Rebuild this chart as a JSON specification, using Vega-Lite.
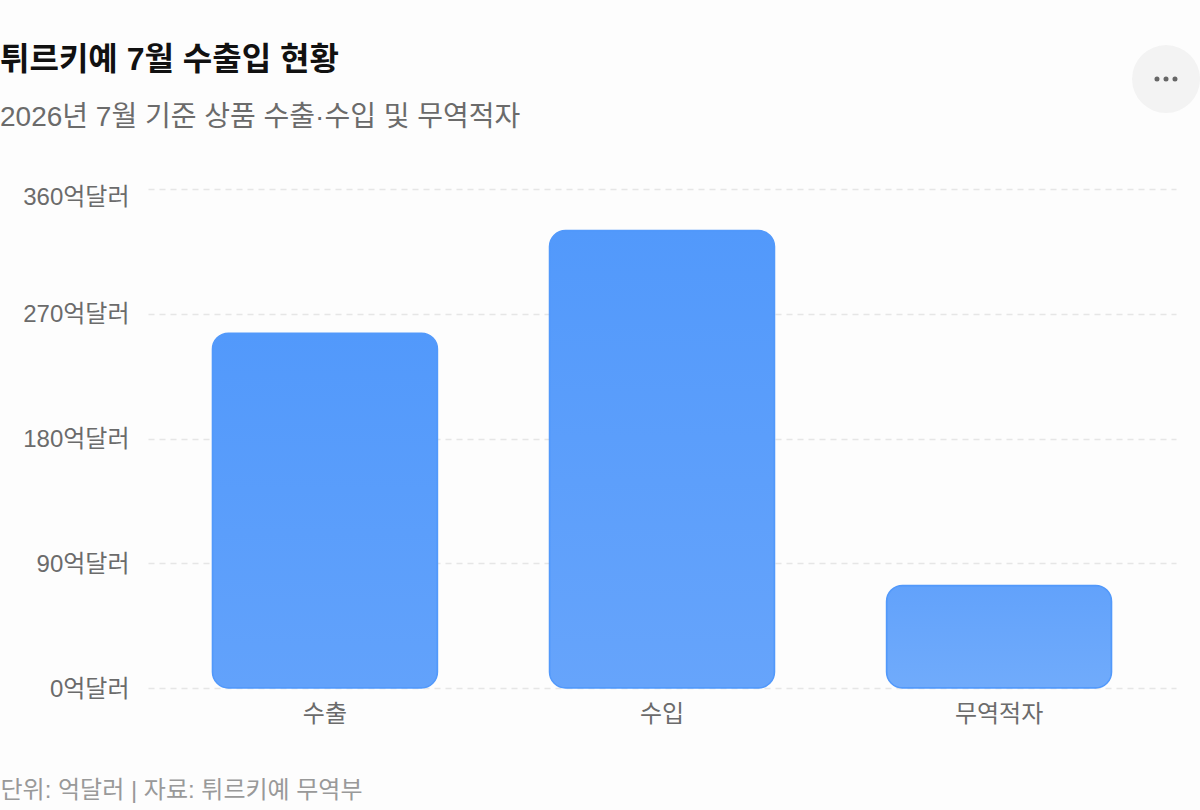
{
"$schema":"https://vega.github.io/schema/vega-lite/v6.json",
"width":1028,"height":499,
"autosize":{"type":"none"},
"padding":{"left":148,"top":189,"right":24,"bottom":122},
"background":"#fdfdfd",
"title":{"text":"튀르키예 7월 수출입 현황","subtitle":"2026년 7월 기준 상품 수출·수입 및 무역적자","anchor":"start","frame":"group","dx":-148,"offset":-88,
"font":"Liberation Sans, Noto Sans CJK KR","fontSize":32,"fontWeight":"bold","color":"#111111",
"subtitleFont":"Liberation Sans, Noto Sans CJK KR","subtitleFontSize":28,"subtitleColor":"#6b6b6b","subtitleFontWeight":"normal","subtitlePadding":27},
"config":{"view":{"stroke":null}},
"datasets":{
"bars":[{"항목":"수출","값":256},{"항목":"수입","값":330},{"항목":"무역적자","값":74}],
"menu":[{"pos":99.03,"y":439.3}],
"dots":[{"pos":98.15,"y":439.3},{"pos":99.03,"y":439.3},{"pos":99.9,"y":439.3}]
},
"layer":[
{"layer":[
{"data":{"name":"bars"},"transform":[{"filter":"datum['항목']=='수출'"}],
"mark":{"type":"bar","width":225,"cornerRadius":16,"strokeWidth":1.5,"stroke":"#5299fb","fill":{"gradient":"linear","x1":0,"y1":0,"x2":0,"y2":1,"stops":[{"offset":0,"color":"#5299fb"},{"offset":1,"color":"#62a2fb"}]}},
"encoding":{
"x":{"field":"항목","type":"nominal","sort":["수출","수입","무역적자"],"scale":{"domain":["수출","수입","무역적자"],"paddingInner":0.33,"paddingOuter":0.19},
"axis":{"labelAngle":0,"labelFont":"Liberation Sans, Noto Sans CJK KR","labelFontSize":24,"labelColor":"#6b6b6b","labelPadding":14,"domain":false,"ticks":false,"title":"단위: 억달러 | 자료: 튀르키예 무역부","titleFont":"Liberation Sans, Noto Sans CJK KR","titleFontSize":24,"titleFontWeight":"normal","titleColor":"#999999","titleAnchor":"start","titleAlign":"left","titleX":-148,"titleY":90}},
"y":{"field":"값","type":"quantitative","scale":{"domain":[0,360],"nice":false},
"axis":{"values":[0,90,180,270,360],"title":null,"domain":false,"ticks":false,"labelFont":"Liberation Sans, Noto Sans CJK KR","labelFontSize":24,"labelColor":"#6b6b6b","labelPadding":19,"labelExpr":"datum.value+'억달러'","labelOffset":{"condition":{"test":"datum.value==360","value":8},"value":1},"gridColor":"#e6e6e6","gridDash":[6,5],"gridWidth":1.5}}
}},
{"data":{"name":"bars"},"transform":[{"filter":"datum['항목']=='수입'"}],
"mark":{"type":"bar","width":225,"cornerRadius":16,"strokeWidth":1.5,"stroke":"#5299fb","fill":{"gradient":"linear","x1":0,"y1":0,"x2":0,"y2":1,"stops":[{"offset":0,"color":"#5299fb"},{"offset":1,"color":"#66a4fb"}]}},
"encoding":{"x":{"field":"항목","type":"nominal","sort":["수출","수입","무역적자"]},"y":{"field":"값","type":"quantitative"}}},
{"data":{"name":"bars"},"transform":[{"filter":"datum['항목']=='무역적자'"}],
"mark":{"type":"bar","width":225,"cornerRadius":16,"strokeWidth":1.5,"stroke":"#5299fb","fill":{"gradient":"linear","x1":0,"y1":0,"x2":0,"y2":1,"stops":[{"offset":0,"color":"#62a2fb"},{"offset":1,"color":"#70abfb"}]}},
"encoding":{"x":{"field":"항목","type":"nominal","sort":["수출","수입","무역적자"]},"y":{"field":"값","type":"quantitative"}}}
]},
{"layer":[
{"data":{"name":"menu"},"mark":{"type":"point","filled":true,"shape":"circle","size":4624,"color":"#f3f3f3","opacity":1},
"encoding":{"x":{"field":"pos","type":"quantitative","scale":{"domain":[0,100]},"axis":null},"y":{"field":"y","type":"quantitative"}}},
{"data":{"name":"dots"},"mark":{"type":"point","filled":true,"shape":"circle","size":25,"color":"#666666","opacity":1},
"encoding":{"x":{"field":"pos","type":"quantitative","scale":{"domain":[0,100]},"axis":null},"y":{"field":"y","type":"quantitative"}}}
]}
],
"resolve":{"scale":{"x":"independent"},"axis":{"x":"independent"}}
}
